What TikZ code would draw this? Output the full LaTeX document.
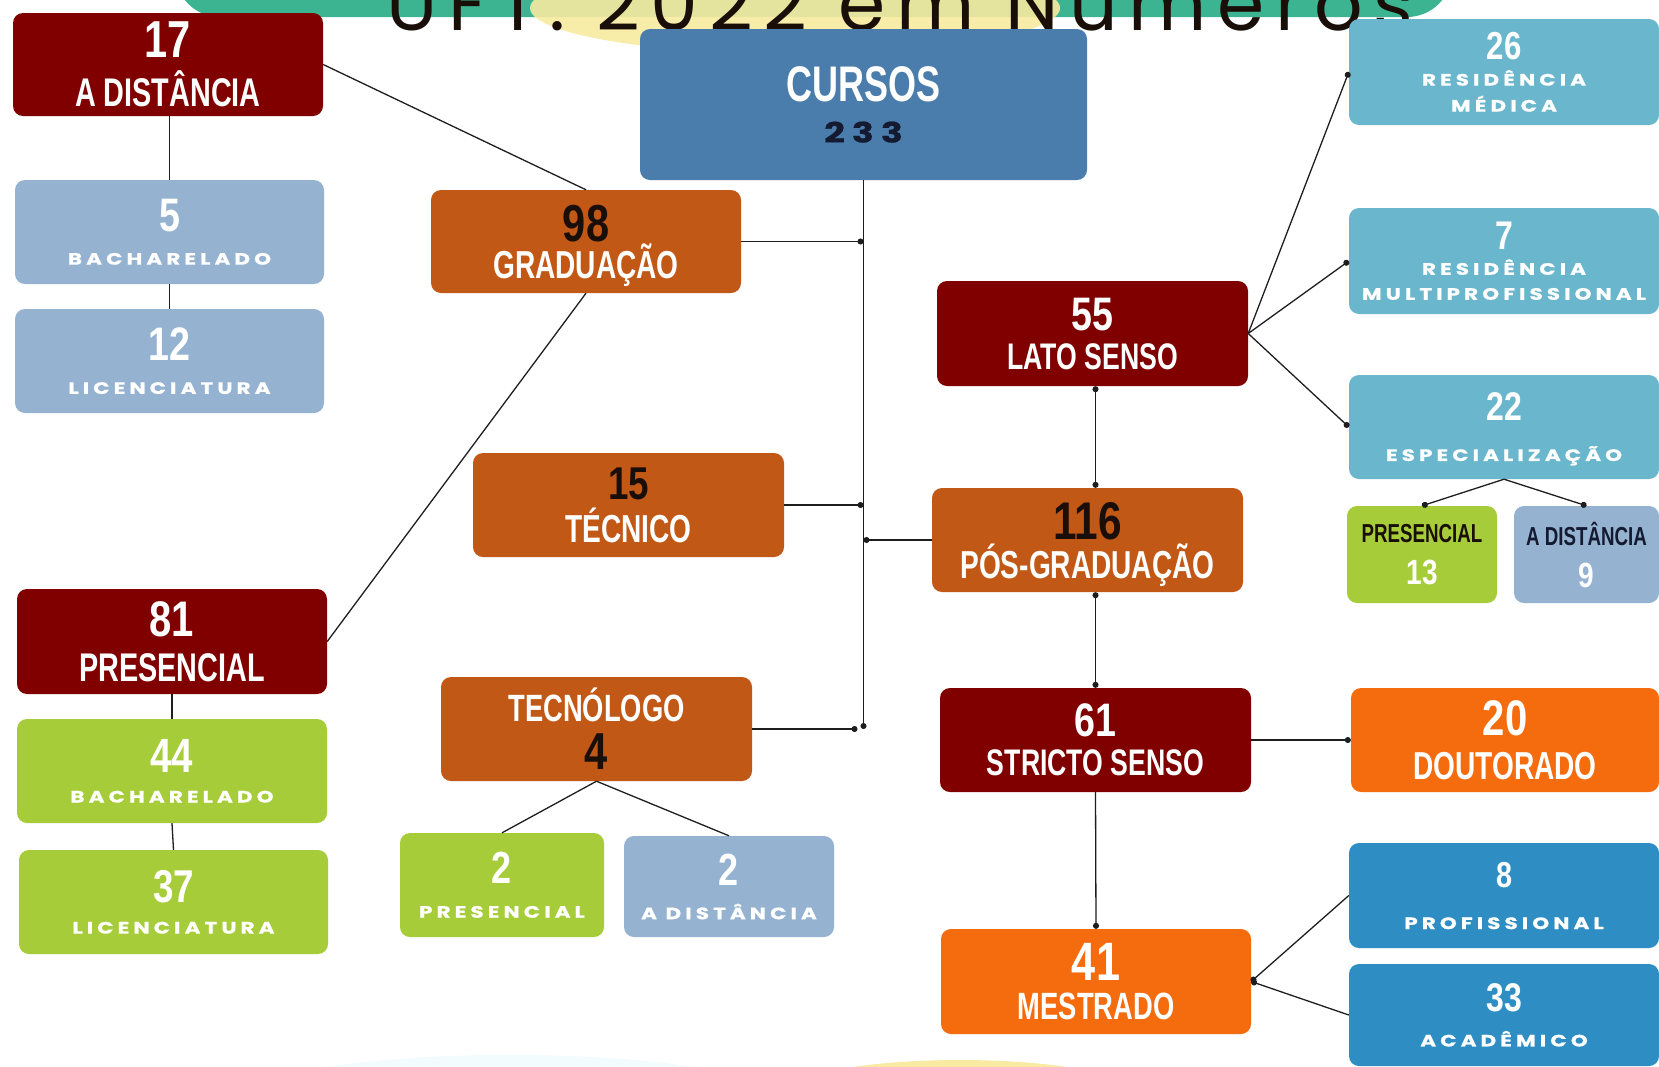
\documentclass[tikz,border=0pt]{standalone}
\usepackage{fontspec}
\usetikzlibrary{arrows.meta}

\newfontfamily\condfont[FakeStretch=0.72]{Liberation Sans}
\newfontfamily\digitfont[FakeStretch=0.8]{Liberation Sans}
\newfontfamily\widefont[LetterSpace=25, FakeStretch=1.3, FakeBold=0.8]{Poppins}
\newfontfamily\handfont[LetterSpace=14]{Poppins}

\definecolor{ufred}{RGB}{128,0,0}
\definecolor{ufgrey}{RGB}{149,179,209}
\definecolor{ufsteel}{RGB}{74,125,172}
\definecolor{ufrust}{RGB}{194,88,22}
\definecolor{ufteal}{RGB}{106,183,205}
\definecolor{ufgreen}{RGB}{166,205,57}
\definecolor{uforange}{RGB}{244,108,14}
\definecolor{ufblue}{RGB}{46,142,196}
\definecolor{ufink}{RGB}{26,14,8}
\definecolor{ufnavy}{RGB}{20,26,48}
\definecolor{ufbanner}{RGB}{60,180,145}
\definecolor{ufsun}{RGB}{248,234,160}
\definecolor{ufline}{RGB}{30,30,30}

% number, condensed label, wide label
\newcommand{\nnum}[2]{{\digitfont\bfseries\fontsize{#1}{#1}\selectfont #2}}
\newcommand{\clab}[2]{{\condfont\bfseries\fontsize{#1}{#1}\selectfont #2}}
\newcommand{\wlab}[1]{{\widefont\bfseries\fontsize{16.5}{17}\selectfont #1}}

\begin{document}
\begin{tikzpicture}[x=1pt, y=-1pt,
    bx/.style={rounded corners=10pt, align=center, text=white, inner sep=0pt, text depth=0pt,
      minimum width=310pt, minimum height=104pt},
    redb/.style={bx, fill=ufred}, greyb/.style={bx, fill=ufgrey}, rustb/.style={bx, fill=ufrust},
    tealb/.style={bx, fill=ufteal}, greenb/.style={bx, fill=ufgreen}, orngb/.style={bx, fill=uforange},
    blueb/.style={bx, fill=ufblue},
    bls/.style={font=\fontsize{12}{#1}\selectfont},
    link/.style={draw=ufline, line width=1.3pt},
    dotend/.style={link, -{Circle[length=6pt]}},
    dotboth/.style={link, {Circle[length=6pt]}-{Circle[length=6pt]}}]
  \fill[white] (0,0) rectangle (1659,1066);
  \useasboundingbox (0,0) rectangle (1659,1066);

  % banner at the top, bands at the bottom
  \fill[ufbanner, rounded corners=45pt] (175,-80) rectangle (1452,17);
  \fill[ufsun, opacity=.9] (795,8) ellipse [x radius=265pt, y radius=46pt];
  \begin{scope}
    \clip (0,0) rectangle (1659,31);
    \node[anchor=base, inner sep=0pt, text=ufink, font=\handfont\fontsize{76}{76}\selectfont] (ttl) at (900,30) {UFT: 2022 em Números};
  \end{scope}
  \fill[cyan!5] (510,1100) ellipse [x radius=270pt, y radius=45pt];
  \fill[ufsun] (960,1100) ellipse [x radius=190pt, y radius=40pt];

  % graduacao side
  \node[redb, bls=49, minimum height=103pt] (dist17) at (168,64.5) {\nnum{52}{17}\\\clab{40}{A DISTÂNCIA}};
  \node[greyb, bls=33, minimum width=309pt] (bach5) at (169.5,232) {\nnum{47}{5}\\\wlab{BACHARELADO}};
  \node[greyb, bls=33, minimum width=309pt] (lic12) at (169.5,361) {\nnum{47}{12}\\\wlab{LICENCIATURA}};
  \node[bx, fill=ufsteel, bls=41, minimum width=447pt, minimum height=151pt] (cursos) at (863.5,104.5)
    {\clab{50}{CURSOS}\\{\widefont\bfseries\fontsize{28}{28}\selectfont\color{ufnavy}233}};
  \node[rustb, bls=37, minimum height=103pt] (grad) at (586,241.5) {\textcolor{ufink}{\nnum{52}{98}}\\\clab{39}{GRADUAÇÃO}};
  \node[rustb, bls=43, minimum width=311pt] (tecnico) at (628.5,505) {\textcolor{ufink}{\nnum{46}{15}}\\\clab{39}{TÉCNICO}};
  \node[redb, bls=45, minimum height=105pt] (pres81) at (172,641.5) {\nnum{50}{81}\\\clab{40}{PRESENCIAL}};
  \node[greenb, bls=30] (bach44) at (172,771) {\nnum{48}{44}\\\wlab{BACHARELADO}};
  \node[greenb, bls=31, minimum width=309pt] (lic37) at (173.5,902) {\nnum{46}{37}\\\wlab{LICENCIATURA}};
  \node[rustb, bls=48, minimum width=311pt] (tecnologo) at (596.5,729) {\clab{38}{TECNÓLOGO}\\\textcolor{ufink}{\nnum{52}{4}}};
  \node[greenb, bls=34, minimum width=204pt] (prestec) at (502,885) {\nnum{45}{2}\\\wlab{PRESENCIAL}};
  \node[greyb, bls=34, minimum width=210pt, minimum height=101pt] (disttec) at (729,886.5) {\nnum{45}{2}\\\wlab{A DISTÂNCIA}};

  % pos-graduacao side
  \node[redb, bls=39, minimum width=311pt, minimum height=105pt] (lato) at (1092.5,333.5) {\nnum{47}{55}\\\clab{37}{LATO SENSO}};
  \node[rustb, bls=39, minimum width=311pt] (pos) at (1087.5,540) {\textcolor{ufink}{\nnum{53}{116}}\\\clab{39}{PÓS-GRADUAÇÃO}};
  \node[redb, bls=39, minimum width=311pt] (stricto) at (1095.5,740) {\nnum{47}{61}\\\clab{37}{STRICTO SENSO}};
  \node[orngb, bls=39, minimum height=105pt] (mest) at (1096,981.5) {\nnum{54}{41}\\\clab{38}{MESTRADO}};
  \node[tealb, bls=26, minimum height=106pt] (resmed) at (1504,72) {\nnum{39}{26}\\\wlab{RESIDÊNCIA}\\\wlab{MÉDICA}};
  \node[tealb, bls=25, minimum height=106pt] (resmulti) at (1504,261) {\nnum{40}{7}\\\wlab{RESIDÊNCIA}\\\wlab{MULTIPROFISSIONAL}};
  \node[tealb, bls=40] (espec) at (1504,427) {\nnum{40}{22}\\\wlab{ESPECIALIZAÇÃO}};
  \node[greenb, bls=42, minimum width=150pt, minimum height=97pt] (presesp) at (1422,554.5) {\textcolor{ufink}{\clab{26}{PRESENCIAL}}\\\nnum{35}{13}};
  \node[greyb, bls=42, minimum width=145pt, minimum height=97pt] (distesp) at (1586.5,554.5) {\textcolor{ufnavy}{\clab{26}{A DISTÂNCIA}}\\\nnum{35}{9}};
  \node[orngb, bls=44, minimum width=308pt] (dout) at (1505,740) {\nnum{50}{20}\\\clab{39}{DOUTORADO}};
  \node[blueb, bls=42, minimum height=105pt] (prof) at (1504,895.5) {\nnum{36}{8}\\\wlab{PROFISSIONAL}};
  \node[blueb, bls=35, minimum height=102pt] (acad) at (1504,1015) {\nnum{40}{33}\\\wlab{ACADÊMICO}};

  % links
  \draw[link] (bach5.north |- dist17.south) -- (bach5.north);
  \draw[link] (bach5.south) -- (lic12.north);
  \draw[link] (dist17.east) -- (grad.north);
  \draw[link] (grad.south) -- (pres81.east);
  \draw[link] (pres81.south) -- (bach44.north);
  \draw[link] (bach44.south) -- (lic37.north);
  \coordinate (trunk) at (cursos.south |- tecnologo.east);
  \draw[dotend] (cursos.south) -- (trunk);
  \draw[dotend] (grad.east) -- (grad.east -| cursos.south);
  \draw[dotend] (tecnico.east) -- (tecnico.east -| cursos.south);
  \draw[dotend] (pos.west) -- (pos.west -| cursos.south);
  \draw[dotend] (tecnologo.east) -- ([xshift=-6pt]trunk);
  \foreach \t in {prestec, disttec}
    \draw[link] (tecnologo.south) -- (\t.north);
  \draw[dotboth] (lato.south -| stricto.north) -- (pos.north -| stricto.north);
  \draw[dotboth] (pos.south -| stricto.north) -- (stricto.north);
  \draw[dotend] (stricto.south) -- (mest.north);
  \draw[dotend] (stricto.east) -- (dout.west);
  \foreach \t in {resmed, resmulti, espec}
    \draw[dotend] (lato.east) -- (\t.west);
  \foreach \t in {presesp, distesp}
    \draw[dotend] (espec.south) -- (\t.north);
  \foreach \t in {prof, acad}
    \draw[link, {Circle[length=6pt]}-] (mest.east) -- (\t.west);
\end{tikzpicture}
\end{document}
